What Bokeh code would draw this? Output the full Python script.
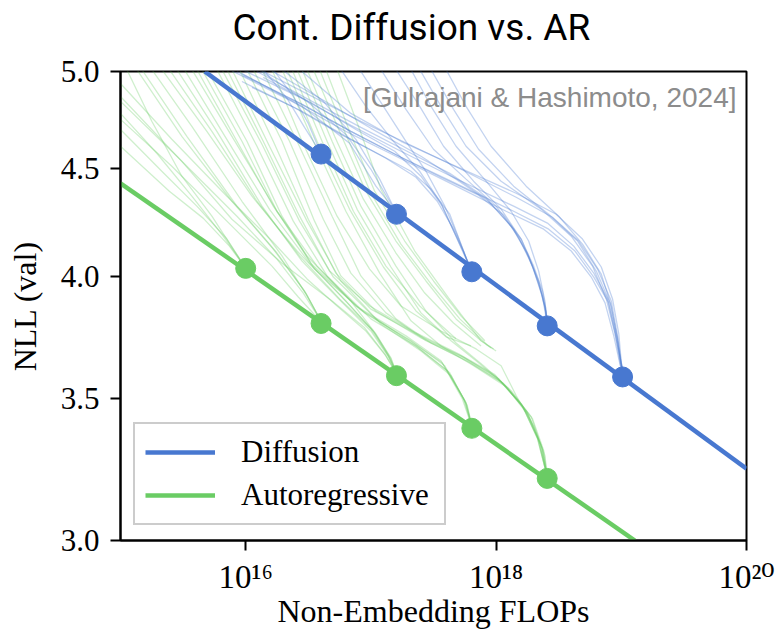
from bokeh.plotting import figure
from bokeh.models import FixedTicker, CustomJSTickFormatter, Legend, LegendItem, Label, Title
from bokeh.embed import file_html
from bokeh.resources import INLINE

BLUE = "#4878D0"
GREEN = "#6ACC64"

# Compute-optimal points (non-embedding FLOPs, final val NLL)
diff_flops = [4e16, 1.6e17, 6.4e17, 2.56e18, 1.024e19]
diff_nll = [4.57, 4.28, 4.02, 3.79, 3.585]
ar_flops = [1e16, 4e16, 1.6e17, 6.4e17, 2.56e18]
ar_nll = [4.035, 3.80, 3.59, 3.39, 3.21]

# Power-law frontier fits (log10 FLOPs, NLL) at the plot edges
diff_fit_log10_flops = [15.673, 20.0]
diff_fit_nll = [5.0, 3.244]
ar_fit_log10_flops = [15.0, 19.108]
ar_fit_nll = [4.427, 3.0]

# Individual training curves, diffusion (log10 FLOPs, NLL)
diff_curves_log10_flops = [
    [15.97, 16.45, 16.84, 17.24, 17.64, 18.14, 18.41, 18.62, 18.78, 18.89, 18.95, 18.99, 19.02],
    [16.11, 16.53, 16.92, 17.32, 17.72, 18.16, 18.45, 18.66, 18.81, 18.92, 18.97, 19.00, 19.02],
    [17.39, 17.56, 17.76, 18.04, 18.36, 18.60, 18.77, 18.88, 18.95, 19.00, 19.02],
    [17.60, 17.76, 17.96, 18.24, 18.50, 18.69, 18.84, 18.92, 18.97, 19.00, 19.02],
    [15.87, 16.37, 16.80, 17.20, 17.60, 18.08, 18.38, 18.60, 18.76, 18.87, 18.94, 18.99, 19.02],
    [15.98, 16.45, 16.84, 17.24, 17.56, 17.86, 18.06, 18.20, 18.30, 18.37, 18.40, 18.41],
    [16.19, 16.61, 17.00, 17.40, 17.68, 17.94, 18.14, 18.26, 18.34, 18.39, 18.41],
    [17.20, 17.39, 17.58, 17.82, 18.04, 18.20, 18.30, 18.37, 18.41],
    [17.08, 17.28, 17.50, 17.76, 18.00, 18.18, 18.29, 18.36, 18.40, 18.41],
    [15.97, 16.37, 16.76, 17.08, 17.32, 17.48, 17.63, 17.71, 17.77, 17.81],
    [16.14, 16.53, 16.88, 17.19, 17.40, 17.57, 17.68, 17.76, 17.81],
    [16.91, 17.10, 17.28, 17.44, 17.59, 17.70, 17.77, 17.81],
    [16.76, 16.96, 17.18, 17.39, 17.56, 17.68, 17.81],
    [15.97, 16.45, 16.83, 17.04, 17.16, 17.21],
    [16.10, 16.49, 16.80, 17.00, 17.13, 17.21],
    [16.29, 16.62, 16.88, 17.07, 17.17, 17.21],
    [16.22, 16.38, 16.50, 16.57, 16.61],
    [16.14, 16.33, 16.47, 16.57, 16.61],
    [15.93, 16.45, 16.84, 17.24, 17.64, 18.14, 18.42, 18.63, 18.78, 18.90, 18.96, 19.00, 19.02],
    [16.45, 16.84, 17.24, 17.64, 18.16, 18.48, 18.69, 18.84, 18.93, 18.98, 19.00, 19.02],
    [16.09, 16.53, 16.92, 17.32, 17.63, 17.92, 18.12, 18.25, 18.34, 18.39, 18.41],
    [16.05, 16.45, 16.80, 17.12, 17.36, 17.53, 17.66, 17.74, 17.78, 17.81],
    [17.32, 17.48, 17.68, 17.92, 18.12, 18.26, 18.34, 18.39, 18.41],
    [17.48, 17.66, 17.86, 18.14, 18.42, 18.65, 18.80, 18.91, 18.97, 19.00, 19.02],
]
diff_curves_nll = [
    [5.011, 4.856, 4.715, 4.584, 4.461, 4.318, 4.239, 4.134, 4.014, 3.903, 3.761, 3.641, 3.586],
    [5.011, 4.866, 4.736, 4.614, 4.495, 4.360, 4.266, 4.157, 4.032, 3.894, 3.749, 3.641, 3.586],
    [5.011, 4.814, 4.609, 4.437, 4.304, 4.179, 4.045, 3.903, 3.757, 3.633, 3.586],
    [5.011, 4.814, 4.609, 4.413, 4.271, 4.143, 4.010, 3.873, 3.729, 3.625, 3.586],
    [5.011, 4.840, 4.684, 4.559, 4.437, 4.294, 4.211, 4.112, 3.997, 3.886, 3.749, 3.633, 3.586],
    [4.978, 4.824, 4.684, 4.554, 4.456, 4.370, 4.276, 4.166, 4.045, 3.937, 3.852, 3.790],
    [5.011, 4.850, 4.700, 4.559, 4.447, 4.341, 4.211, 4.085, 3.971, 3.869, 3.790],
    [5.011, 4.814, 4.609, 4.437, 4.304, 4.166, 4.032, 3.916, 3.790],
    [5.011, 4.798, 4.594, 4.447, 4.318, 4.175, 4.045, 3.928, 3.844, 3.790],
    [4.946, 4.814, 4.669, 4.564, 4.485, 4.398, 4.280, 4.157, 4.067, 4.023],
    [4.968, 4.830, 4.694, 4.584, 4.461, 4.318, 4.179, 4.076, 4.023],
    [5.011, 4.814, 4.634, 4.485, 4.318, 4.170, 4.067, 4.023],
    [5.011, 4.814, 4.634, 4.485, 4.332, 4.179, 4.023],
    [4.989, 4.814, 4.624, 4.413, 4.322, 4.280],
    [5.011, 4.840, 4.669, 4.495, 4.360, 4.280],
    [5.011, 4.840, 4.644, 4.447, 4.327, 4.280],
    [5.011, 4.866, 4.725, 4.619, 4.574],
    [5.011, 4.856, 4.705, 4.604, 4.574],
    [5.000, 4.824, 4.684, 4.554, 4.437, 4.294, 4.211, 4.112, 3.997, 3.886, 3.749, 3.637, 3.586],
    [5.000, 4.777, 4.634, 4.520, 4.379, 4.280, 4.166, 4.041, 3.903, 3.757, 3.641, 3.586],
    [5.000, 4.840, 4.705, 4.574, 4.475, 4.356, 4.225, 4.103, 3.980, 3.873, 3.790],
    [4.914, 4.788, 4.659, 4.549, 4.456, 4.341, 4.211, 4.112, 4.054, 4.023],
    [5.011, 4.814, 4.609, 4.437, 4.294, 4.157, 4.023, 3.894, 3.790],
    [5.011, 4.798, 4.594, 4.413, 4.280, 4.157, 4.023, 3.886, 3.741, 3.629, 3.586],
]

# Individual training curves, autoregressive (log10 FLOPs, NLL)
ar_curves_log10_flops = [
    [15.00, 15.39, 15.66, 15.87, 16.00],
    [15.00, 15.33, 15.61, 15.85, 16.00],
    [15.00, 15.29, 15.57, 15.82, 15.95, 16.00],
    [15.05, 15.25, 15.49, 15.73, 15.90, 16.00],
    [15.00, 15.41, 15.89, 16.21, 16.42, 16.61],
    [15.00, 15.45, 15.93, 16.25, 16.46, 16.61],
    [15.25, 15.57, 15.97, 16.29, 16.49, 16.61],
    [15.13, 15.49, 15.89, 16.22, 16.47, 16.61],
    [15.00, 15.49, 15.89, 16.29, 16.69, 16.95, 17.11, 17.21],
    [15.45, 15.77, 16.13, 16.45, 16.76, 17.00, 17.14, 17.21],
    [15.33, 15.69, 16.05, 16.41, 16.76, 17.02, 17.15, 17.21],
    [15.57, 15.89, 16.25, 16.57, 16.84, 17.04, 17.16, 17.21],
    [15.69, 16.01, 16.29, 16.55, 16.95, 17.32, 17.59, 17.75, 17.81],
    [15.77, 16.09, 16.38, 16.65, 17.00, 17.36, 17.61, 17.76, 17.81],
    [15.89, 16.19, 16.49, 16.76, 17.08, 17.40, 17.64, 17.77, 17.81],
    [15.61, 15.93, 16.22, 16.49, 16.88, 17.28, 17.56, 17.73, 17.81],
    [16.01, 16.29, 16.55, 16.76, 17.04, 17.40, 17.75, 18.02, 18.22, 18.34, 18.41],
    [16.13, 16.41, 16.69, 16.92, 17.20, 17.48, 17.79, 18.06, 18.25, 18.36, 18.41],
    [16.29, 16.54, 16.80, 17.07, 17.32, 17.56, 17.82, 18.08, 18.26, 18.37, 18.41],
    [15.85, 16.14, 16.43, 16.67, 16.99, 17.36, 17.70, 17.99, 18.20, 18.33, 18.41],
    [16.45, 16.69, 16.92, 17.20, 17.44, 17.68, 17.90, 18.12, 18.29, 18.38, 18.41],
    [16.54, 16.75, 16.96, 17.20, 17.44, 17.68, 17.88, 17.98],
    [16.64, 16.83, 17.03, 17.27, 17.50, 17.72, 17.91],
    [16.73, 16.91, 17.08, 17.35, 17.62, 17.88, 17.96],
    [16.21, 16.45, 16.73, 16.99, 17.24, 17.56, 17.84, 18.04, 18.16, 18.30, 18.39, 18.41],
    [16.37, 16.61, 16.86, 17.12, 17.39, 17.68],
    [15.00, 15.41, 15.85, 16.21, 16.49, 16.73, 16.96, 17.12, 17.21],
    [15.17, 15.53, 15.93, 16.25, 16.48, 16.61],
    [15.39, 15.73, 16.09, 16.43, 16.75, 17.00, 17.14, 17.21],
    [15.51, 15.82, 16.19, 16.51, 16.80, 17.03, 17.16, 17.21],
    [15.65, 15.97, 16.25, 16.52, 16.91, 17.30, 17.57, 17.74, 17.81],
    [15.81, 16.13, 16.43, 16.70, 17.04, 17.38, 17.63, 17.76, 17.81],
    [15.95, 16.22, 16.50, 16.72, 17.00, 17.39, 17.72, 18.00, 18.21, 18.33, 18.41],
    [16.06, 16.35, 16.62, 16.84, 17.12, 17.44, 17.77, 18.04, 18.24, 18.35, 18.41],
    [16.33, 16.57, 16.83, 17.10, 17.36, 17.60, 17.80],
    [16.41, 16.65, 16.89, 17.16, 17.40, 17.64, 17.86, 18.10, 18.28, 18.37, 18.41],
    [16.49, 16.71, 16.94, 17.20, 17.43, 17.66, 17.88],
    [16.59, 16.79, 17.00, 17.24, 17.48, 17.71, 17.93, 18.00],
]
ar_curves_nll = [
    [4.609, 4.389, 4.262, 4.134, 4.036],
    [4.694, 4.485, 4.318, 4.166, 4.036],
    [4.777, 4.574, 4.365, 4.179, 4.076, 4.036],
    [5.011, 4.736, 4.461, 4.271, 4.121, 4.036],
    [4.746, 4.510, 4.225, 4.045, 3.911, 3.802],
    [4.840, 4.559, 4.271, 4.076, 3.928, 3.802],
    [5.011, 4.710, 4.341, 4.090, 3.916, 3.802],
    [5.011, 4.659, 4.341, 4.121, 3.937, 3.802],
    [4.866, 4.534, 4.257, 4.058, 3.894, 3.782, 3.676, 3.594],
    [5.011, 4.684, 4.318, 4.067, 3.894, 3.769, 3.664, 3.594],
    [5.011, 4.684, 4.365, 4.112, 3.916, 3.769, 3.660, 3.594],
    [5.011, 4.659, 4.294, 4.045, 3.894, 3.757, 3.656, 3.594],
    [5.011, 4.634, 4.271, 4.032, 3.844, 3.729, 3.629, 3.493, 3.392],
    [5.011, 4.609, 4.248, 4.002, 3.819, 3.708, 3.609, 3.486, 3.392],
    [5.011, 4.609, 4.248, 3.980, 3.798, 3.688, 3.590, 3.475, 3.392],
    [5.011, 4.634, 4.318, 4.090, 3.873, 3.749, 3.649, 3.501, 3.392],
    [5.011, 4.634, 4.248, 4.002, 3.852, 3.741, 3.660, 3.578, 3.467, 3.345, 3.213],
    [5.011, 4.634, 4.271, 4.002, 3.819, 3.720, 3.641, 3.559, 3.448, 3.327, 3.213],
    [5.011, 4.634, 4.294, 4.014, 3.811, 3.708, 3.629, 3.547, 3.437, 3.316, 3.213],
    [5.011, 4.634, 4.271, 4.023, 3.873, 3.761, 3.676, 3.594, 3.482, 3.356, 3.213],
    [5.011, 4.634, 4.318, 4.045, 3.852, 3.720, 3.629, 3.532, 3.426, 3.309, 3.213],
    [5.011, 4.684, 4.389, 4.157, 3.980, 3.819, 3.729, 3.696],
    [5.011, 4.684, 4.389, 4.157, 3.980, 3.831, 3.729],
    [5.011, 4.694, 4.398, 4.112, 3.907, 3.729, 3.700],
    [5.011, 4.634, 4.271, 4.032, 3.873, 3.769, 3.696, 3.629, 3.513, 3.399, 3.291, 3.213],
    [5.011, 4.634, 4.294, 4.045, 3.873, 3.737],
    [4.935, 4.644, 4.365, 4.157, 3.989, 3.873, 3.769, 3.668, 3.594],
    [5.011, 4.659, 4.318, 4.103, 3.928, 3.802],
    [5.011, 4.684, 4.341, 4.090, 3.903, 3.778, 3.668, 3.594],
    [5.011, 4.674, 4.303, 4.058, 3.894, 3.761, 3.660, 3.594],
    [5.011, 4.634, 4.294, 4.058, 3.860, 3.733, 3.641, 3.501, 3.392],
    [5.011, 4.619, 4.248, 3.997, 3.819, 3.700, 3.601, 3.482, 3.392],
    [5.011, 4.634, 4.257, 4.014, 3.860, 3.749, 3.668, 3.586, 3.475, 3.352, 3.213],
    [5.011, 4.634, 4.257, 4.014, 3.844, 3.729, 3.649, 3.566, 3.456, 3.334, 3.213],
    [5.011, 4.634, 4.303, 4.041, 3.852, 3.745, 3.708],
    [5.011, 4.634, 4.303, 4.041, 3.844, 3.729, 3.641, 3.539, 3.433, 3.312, 3.213],
    [5.011, 4.659, 4.351, 4.103, 3.928, 3.802, 3.708],
    [5.011, 4.684, 4.379, 4.143, 3.967, 3.819, 3.712, 3.688],
]

y_ticks = [3.0, 3.5, 4.0, 4.5, 5.0]
x_ticks = [1e16, 1e18, 1e20]

SERIF = "Liberation Serif, DejaVu Serif"

p = figure(width=777, height=634, x_axis_type="log", y_axis_type="log",
           x_range=(1e15, 1e20), y_range=(3.0, 5.0), title=None,
           output_backend="svg", toolbar_location=None,
           min_border_left=120, min_border_right=31,
           min_border_top=70, min_border_bottom=94)

p.background_fill_color = "white"
p.border_fill_color = "white"
p.outline_line_color = "black"
p.outline_line_width = 2
p.outline_line_alpha = 1.0
p.xgrid.visible = False
p.ygrid.visible = False

# spacer between frame and title, then the title itself
p.add_layout(Title(text=" ", text_font_size="2px", standoff=16), "above")
p.add_layout(Title(text="Cont. Diffusion vs. AR", text_font="Roboto",
                   text_font_size="37px", text_font_style="normal",
                   text_color="black", align="left", offset=112,
                   standoff=6), "above")

def to_flops(rows):
    return [[10 ** v for v in r] for r in rows]

p.multi_line(to_flops(ar_curves_log10_flops), ar_curves_nll,
             line_color=GREEN, line_alpha=0.32, line_width=1.3)
p.multi_line(to_flops(diff_curves_log10_flops), diff_curves_nll,
             line_color=BLUE, line_alpha=0.33, line_width=1.3)

r_diff = p.line([10 ** v for v in diff_fit_log10_flops], diff_fit_nll,
                line_color=BLUE, line_width=4.5)
r_ar = p.line([10 ** v for v in ar_fit_log10_flops], ar_fit_nll,
              line_color=GREEN, line_width=4.5)
p.scatter(diff_flops, diff_nll, size=20, fill_color=BLUE, line_color=BLUE)
p.scatter(ar_flops, ar_nll, size=20, fill_color=GREEN, line_color=GREEN)

p.add_layout(Label(x=10 ** 19.92, y=4.86, text="[Gulrajani & Hashimoto, 2024]",
                   text_align="right", text_baseline="middle",
                   text_font="Liberation Sans", text_font_size="28px",
                   text_color="#8c8c8c"))

for ax in (p.xaxis[0], p.yaxis[0]):
    ax.axis_line_width = 2
    ax.axis_line_color = "black"
    ax.major_tick_line_width = 2
    ax.major_tick_line_color = "black"
    ax.major_tick_out = 10
    ax.major_tick_in = 0
    ax.minor_tick_out = 0
    ax.minor_tick_in = 0
    ax.major_label_text_font = SERIF
    ax.major_label_text_color = "black"
    ax.axis_label_text_font = SERIF
    ax.axis_label_text_font_size = "32px"
    ax.axis_label_text_font_style = "normal"
    ax.axis_label_text_color = "black"

p.xaxis.major_label_text_font_size = "33px"
p.yaxis.major_label_text_font_size = "31px"
p.xaxis.ticker = FixedTicker(ticks=x_ticks)
p.yaxis.ticker = FixedTicker(ticks=y_ticks)
p.xaxis.formatter = CustomJSTickFormatter(code="""
const e = Math.round(Math.log10(tick));
const sup = {"0":"\u2070","1":"\u00b9","2":"\u00b2","3":"\u00b3","4":"\u2074","5":"\u2075","6":"\u2076","7":"\u2077","8":"\u2078","9":"\u2079","-":"\u207b"};
return "10" + String(e).split("").map(c => sup[c]).join("");
""")
p.yaxis.formatter = CustomJSTickFormatter(code="return tick.toFixed(1);")
p.xaxis.major_label_standoff = 8
p.yaxis.major_label_standoff = 11
p.xaxis.axis_label = "Non-Embedding FLOPs"
p.yaxis.axis_label = "NLL (val)"
p.xaxis.axis_label_standoff = -5
p.yaxis.axis_label_standoff = 15

legend = Legend(items=[LegendItem(label="Diffusion", renderers=[r_diff]),
                       LegendItem(label="Autoregressive", renderers=[r_ar])],
                location=(13, 15),
                label_text_font=SERIF, label_text_font_size="31px",
                label_text_color="black",
                glyph_width=70, glyph_height=36, label_standoff=26,
                label_width=193,
                spacing=7, padding=10, margin=0,
                border_line_color="#cccccc", border_line_width=2,
                border_line_alpha=1.0, background_fill_alpha=0.85)
p.add_layout(legend)

open("out.html", "w").write(file_html(p, INLINE))
